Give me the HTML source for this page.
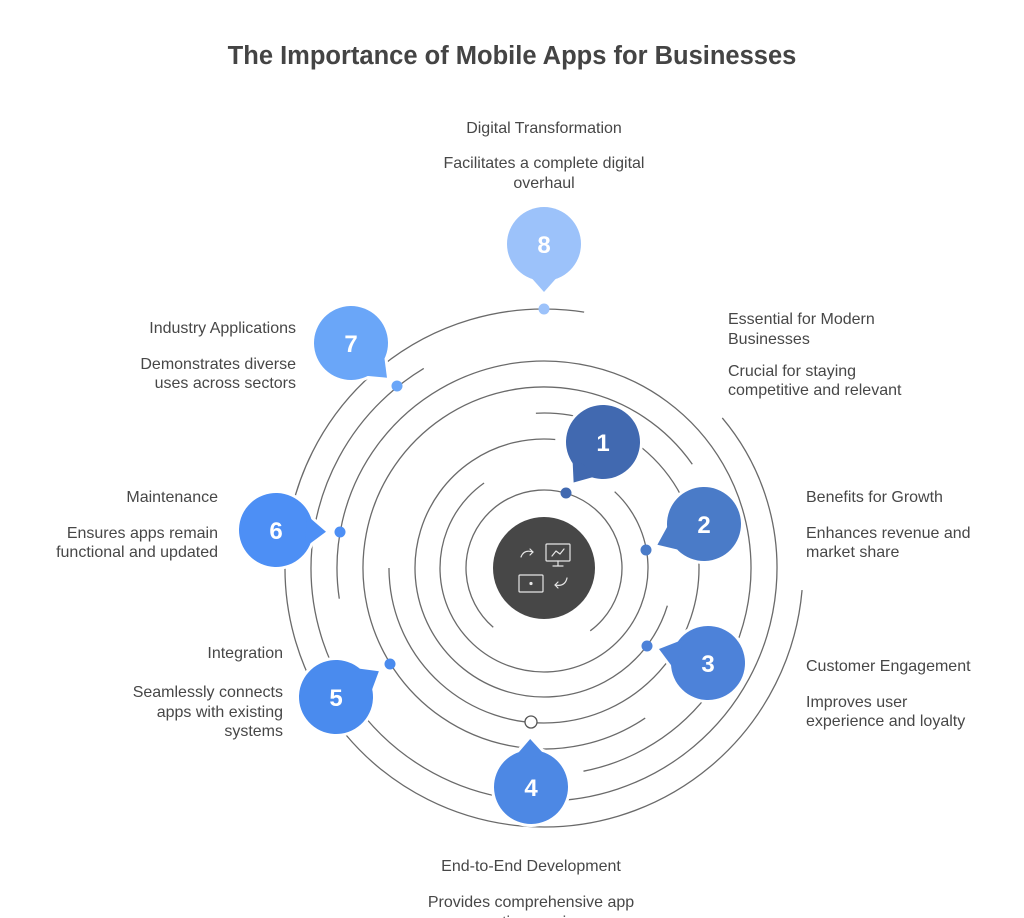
<!DOCTYPE html>
<html><head><meta charset="utf-8"><style>
html,body{margin:0;padding:0;background:#fff;}
svg{display:block;}
text{font-family:"Liberation Sans",sans-serif;fill:#474747;font-size:16px;}
</style></head><body>
<svg width="1024" height="918" viewBox="0 0 1024 918" xmlns="http://www.w3.org/2000/svg">
<defs>
<g id="b50"><circle r="37"/><polygon points="30,-16 50,0 30,16"/></g>
<g id="b51"><circle r="37"/><polygon points="30,-16 51,0 30,16"/></g>
<g id="b48"><circle r="37"/><polygon points="30,-16 48,0 30,16"/></g>
</defs>
<text x="512" y="64" text-anchor="middle" style="font-size:25.5px;font-weight:bold;fill:#444">The Importance of Mobile Apps for Businesses</text>
<g fill="none" stroke="#6a6a6a" stroke-width="1.3">
<circle cx="544" cy="568" r="78" pathLength="360" stroke-dasharray="283 77" transform="rotate(131 544 568)"/>
<circle cx="544" cy="568" r="104" pathLength="360" stroke-dasharray="282 78" transform="rotate(313 544 568)"/>
<circle cx="544" cy="568" r="129" pathLength="360" stroke-dasharray="258 102" transform="rotate(17 544 568)"/>
<circle cx="544" cy="568" r="155" pathLength="360" stroke-dasharray="273 87" transform="rotate(267 544 568)"/>
<circle cx="544" cy="568" r="181" pathLength="360" stroke-dasharray="269 91" transform="rotate(56 544 568)"/>
<circle cx="544" cy="568" r="207" pathLength="360" stroke-dasharray="267.5 92.5" transform="rotate(171.5 544 568)"/>
<circle cx="544" cy="568" r="233" pathLength="360" stroke-dasharray="279 81" transform="rotate(320 544 568)"/>
<circle cx="544" cy="568" r="259" pathLength="360" stroke-dasharray="274 86" transform="rotate(5 544 568)"/>
</g>
<circle cx="544" cy="568" r="51" fill="#474747"/>
<g fill="none" stroke="#e6e6e6" stroke-width="1.2" stroke-linecap="round" stroke-linejoin="round">
<path d="M521 557 q3 -8 12 -5"/><path d="M530 549 l3 3 l-3 3"/>
<rect x="546" y="544" width="24" height="17" rx="1"/>
<path d="M552 556 l4 -5 l4 3 l4 -5"/><path d="M558 561 v5 M553 566 h10"/>
<rect x="519" y="575" width="24" height="17" rx="1"/>
<circle cx="531" cy="583.5" r="1" fill="#e6e6e6"/>
<path d="M567 578 q-2 9 -12 7"/><path d="M558 582 l-3 3 l3 3"/>
</g>
<g fill="#fff" stroke="#fff" stroke-width="6" stroke-linejoin="round">
<use href="#b50" transform="translate(603 442) rotate(126)"/>
<use href="#b51" transform="translate(704 524) rotate(156)"/>
<use href="#b51" transform="translate(708 663) rotate(196)"/>
<use href="#b48" transform="translate(531 787) rotate(269)"/>
<use href="#b50" transform="translate(336 697) rotate(-31)"/>
<use href="#b50" transform="translate(276 530) rotate(2)"/>
<use href="#b50" transform="translate(351 343) rotate(44)"/>
<use href="#b48" transform="translate(544 244) rotate(90)"/>
</g>
<use href="#b50" transform="translate(603 442) rotate(126)" fill="#4169b0"/>
<use href="#b51" transform="translate(704 524) rotate(156)" fill="#4a7bc8"/>
<use href="#b51" transform="translate(708 663) rotate(196)" fill="#4d82d9"/>
<use href="#b48" transform="translate(531 787) rotate(269)" fill="#4d88e4"/>
<use href="#b50" transform="translate(336 697) rotate(-31)" fill="#4a8bee"/>
<use href="#b50" transform="translate(276 530) rotate(2)" fill="#4d8ff5"/>
<use href="#b50" transform="translate(351 343) rotate(44)" fill="#6aa6f8"/>
<use href="#b48" transform="translate(544 244) rotate(90)" fill="#9cc2fa"/>
<circle cx="566" cy="493" r="5.5" fill="#4169b0"/>
<circle cx="646" cy="550" r="5.5" fill="#4a7bc8"/>
<circle cx="647" cy="646" r="5.5" fill="#4d82d9"/>
<circle cx="531" cy="722" r="6" fill="#fff" stroke="#555" stroke-width="1.3"/>
<circle cx="390" cy="664" r="5.5" fill="#4a8bee"/>
<circle cx="340" cy="532" r="5.5" fill="#4d8ff5"/>
<circle cx="397" cy="386" r="5.5" fill="#6aa6f8"/>
<circle cx="544" cy="309" r="5.5" fill="#9cc2fa"/>
<g text-anchor="middle">
<text x="603" y="451" style="fill:#fff;font-size:24px;font-weight:bold">1</text>
<text x="704" y="533" style="fill:#fff;font-size:24px;font-weight:bold">2</text>
<text x="708" y="672" style="fill:#fff;font-size:24px;font-weight:bold">3</text>
<text x="531" y="796" style="fill:#fff;font-size:24px;font-weight:bold">4</text>
<text x="336" y="706" style="fill:#fff;font-size:24px;font-weight:bold">5</text>
<text x="276" y="539" style="fill:#fff;font-size:24px;font-weight:bold">6</text>
<text x="351" y="352" style="fill:#fff;font-size:24px;font-weight:bold">7</text>
<text x="544" y="253" style="fill:#fff;font-size:24px;font-weight:bold">8</text>
</g>
<g text-anchor="middle">
<text x="544" y="133">Digital Transformation</text>
<text x="544" y="168">Facilitates a complete digital</text>
<text x="544" y="188">overhaul</text>
<text x="531" y="871">End-to-End Development</text>
<text x="531" y="907">Provides comprehensive app</text>
<text x="531" y="927">creation services</text>
</g>
<g>
<text x="728" y="324">Essential for Modern</text>
<text x="728" y="344">Businesses</text>
<text x="728" y="376">Crucial for staying</text>
<text x="728" y="395">competitive and relevant</text>
<text x="806" y="502">Benefits for Growth</text>
<text x="806" y="538">Enhances revenue and</text>
<text x="806" y="557">market share</text>
<text x="806" y="671">Customer Engagement</text>
<text x="806" y="707">Improves user</text>
<text x="806" y="726">experience and loyalty</text>
</g>
<g text-anchor="end">
<text x="283" y="658">Integration</text>
<text x="283" y="697">Seamlessly connects</text>
<text x="283" y="717">apps with existing</text>
<text x="283" y="736">systems</text>
<text x="218" y="502">Maintenance</text>
<text x="218" y="538">Ensures apps remain</text>
<text x="218" y="557">functional and updated</text>
<text x="296" y="333">Industry Applications</text>
<text x="296" y="369">Demonstrates diverse</text>
<text x="296" y="388">uses across sectors</text>
</g>
</svg>
</body></html>
